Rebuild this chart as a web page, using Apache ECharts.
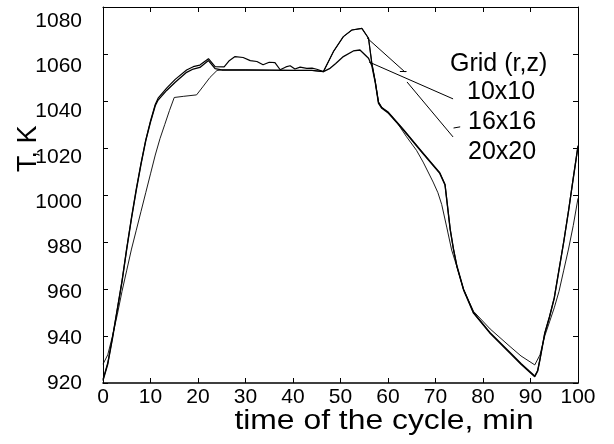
<!DOCTYPE html>
<html>
<head>
<meta charset="utf-8">
<script src="https://cdn.jsdelivr.net/npm/echarts@6/dist/echarts.min.js"></script>
<style>
  html, body { margin: 0; padding: 0; background: #fff; }
  #chart { width: 614px; height: 444px; }
</style>
</head>
<body>
<div id="chart"></div>
<script>
// grid 10x10
var time10 = [0, 1, 2, 3, 4, 5, 6, 7, 8, 9, 10, 11, 11.6, 13.4, 15.2, 17.6, 19, 20.4, 22.2, 23.6, 25, 30, 35, 40, 44, 46.4, 47.8, 49, 50.6, 52.7, 54.1, 55.9, 56.6, 57.3, 58, 58.7, 60.1, 63.2, 67, 70.9, 72, 73.1, 73.8, 74.5, 75.9, 78, 81.5, 85.7, 88, 90.9, 91.5, 92, 93, 94, 95, 96, 97, 98, 99, 100];
var temp10 = [921, 928, 939, 951, 963, 977, 990, 1002, 1013, 1023, 1031, 1038, 1040.4, 1044.5, 1048, 1052.2, 1053.6, 1054.3, 1057.2, 1053.8, 1053.2, 1053.2, 1053.1, 1053, 1053, 1052.5, 1053.9, 1056, 1058.9, 1061.3, 1061.7, 1058.2, 1055, 1048, 1039, 1036.9, 1034.8, 1027.7, 1018.5, 1009.2, 1004.3, 985.1, 976.6, 969.5, 959.6, 949.7, 941.1, 932.6, 928, 922.7, 925, 930, 941, 948, 956, 968, 980, 993, 1007, 1020.6];

// grid 16x16
var time16 = [0, 1, 2, 3, 4, 5, 6, 7, 8, 9, 10, 11, 11.6, 13.4, 15.2, 17.6, 19, 20.4, 22.2, 23.6, 25.5, 26.5, 27.8, 29.5, 31, 32.4, 33.7, 35, 36.2, 37.3, 38.5, 39.4, 40.4, 41.5, 42.9, 44, 45, 46.4, 48.5, 50.6, 52.4, 54.5, 55.9, 56.6, 57.3, 58, 58.7, 60.1, 63.2, 67, 70.9, 72, 73.1, 73.8, 74.5, 75.9, 78, 81.5, 85.7, 88, 90.9, 91.5, 92, 93, 94, 95, 96, 97, 98, 99, 100];
var temp16 = [921.5, 928.5, 939.5, 951.5, 963.5, 977.5, 990.5, 1002.5, 1013.5, 1023.5, 1031.5, 1038.5, 1041.2, 1045.5, 1049.2, 1053.2, 1054.6, 1055.3, 1058, 1054.6, 1054.5, 1057, 1058.9, 1058.5, 1057.2, 1056.8, 1055.4, 1056.5, 1056.3, 1053.3, 1054.5, 1055, 1053.6, 1054.4, 1053.9, 1054, 1053.5, 1052.5, 1061, 1067.4, 1070.2, 1070.9, 1066.7, 1056, 1048.5, 1039.5, 1037.2, 1035.2, 1028, 1018.8, 1009.5, 1004.6, 985.5, 977, 970, 960, 950, 941.4, 933, 928.3, 923, 925.3, 930.3, 941.3, 948.3, 956.3, 968.3, 980.3, 993.3, 1007.3, 1021];

// grid 20x20
var time20 = [0, 1, 2, 3, 4, 5, 6, 7, 8, 9, 10, 11, 12, 13, 14, 15, 17, 19.7, 21, 22.5, 24, 25, 30, 35, 40, 44, 46.4, 48.5, 50.6, 52.4, 54.5, 55.9, 56.6, 57.3, 58, 58.7, 60.1, 62, 63.9, 66, 67.4, 69.5, 70.5, 71.3, 72.4, 73.4, 74.5, 75.9, 78, 81.5, 85.7, 88, 90.9, 92, 93, 94, 95, 96, 97, 98, 99, 100];
var temp20 = [928, 932, 940, 949, 959, 968, 977, 985, 993, 1001, 1009, 1017, 1024, 1030, 1036, 1041.5, 1042, 1042.6, 1046, 1050, 1053, 1053.2, 1053.2, 1053.1, 1053, 1053, 1052.5, 1061, 1067.4, 1070.2, 1070.9, 1066.7, 1056, 1048.5, 1039.5, 1037.2, 1035, 1030.5, 1024.8, 1019, 1014, 1005.5, 1001, 996, 986, 976.6, 969.5, 959.8, 950.5, 943, 935.5, 931.5, 927.7, 932, 940, 946, 952, 959, 968, 977, 987, 998.6];

var xTicks = [0, 10, 20, 30, 40, 50, 60, 70, 80, 90, 100];
var yTicks = [920, 940, 960, 980, 1000, 1020, 1040, 1060, 1080];

// legend text + leader lines (ends given in data units)
var gridNames = ['Grid (r,z)', '10x10', '16x16', '20x20'];
var leader10 = [[56.0, 1056.6], [73.7, 1040.9]];
var leader16a = [[55.6, 1066.8], [63.6, 1052.3]];
var leader16b = [[64.0, 1048.1], [73.7, 1024.7]];
var stubA = [[62.5, 1052.5], [63.9, 1052.5]];
var stubB = [[73.8, 1028.5], [75.2, 1029]];

function pairs(t, v) {
    return t.map(function (x, i) { return [x, v[i]]; });
}
function seg(p) {
    return [{ coord: p[0] }, { coord: p[1] }];
}

var font = 'Liberation Sans, Arial, sans-serif';
var chart = echarts.init(document.getElementById('chart'), null, { renderer: 'canvas' });

var lineBase = {
    type: 'line',
    showSymbol: false,
    symbol: 'none',
    smooth: false,
    animation: false,
    xAxisIndex: 0,
    yAxisIndex: 0
};

var option = {
    backgroundColor: '#fff',
    animation: false,
    grid: [
        { left: 103, right: 36, top: 7, bottom: 61 },
        { left: 103, right: 36, top: 21, bottom: 61 }
    ],
    xAxis: [
        {
            gridIndex: 0, type: 'value', min: 0, max: 100, interval: 10,
            axisLine: { onZero: false, lineStyle: { color: '#000', width: 1.6 } },
            axisTick: { inside: true, length: 5, lineStyle: { color: '#000' } },
            axisLabel: { color: '#000', fontSize: 21, fontFamily: font, margin: 4 },
            splitLine: { show: false }
        },
        {
            gridIndex: 0, type: 'value', min: 0, max: 100, interval: 10, position: 'top',
            axisLine: { onZero: false, lineStyle: { color: '#000', width: 1.2 } },
            axisTick: { inside: true, length: 5, lineStyle: { color: '#000' } },
            axisLabel: { show: false },
            splitLine: { show: false }
        },
        { gridIndex: 1, type: 'value', min: 0, max: 100, show: false }
    ],
    yAxis: [
        {
            gridIndex: 0, type: 'value', min: 920, max: 1080, interval: 20,
            axisLine: { show: true, onZero: false, lineStyle: { color: '#000', width: 1 } },
            axisTick: { show: true, inside: true, length: 5, lineStyle: { color: '#000' } },
            axisLabel: { show: false },
            splitLine: { show: false }
        },
        {
            gridIndex: 0, type: 'value', min: 920, max: 1080, interval: 20, position: 'right',
            axisLine: { show: true, onZero: false, lineStyle: { color: '#000', width: 1 } },
            axisTick: { show: true, inside: true, length: 5, lineStyle: { color: '#000' } },
            axisLabel: { show: false },
            splitLine: { show: false }
        },
        {
            // tick labels sit on their own, slightly offset scale, like the scanned figure
            gridIndex: 1, type: 'value', min: 920, max: 1080, interval: 20,
            axisLine: { show: false },
            axisTick: { show: false },
            axisLabel: {
                color: '#000', fontSize: 21, fontFamily: font, margin: 21,
                formatter: function (v) { return yTicks.indexOf(v) >= 0 ? String(v) : ''; }
            },
            splitLine: { show: false }
        }
    ],
    graphic: [
        {
            type: 'text', x: 384, y: 408, scaleX: 1.18,
            style: { text: 'time of the cycle, min', font: '27px ' + font, fill: '#000', textAlign: 'center' }
        },
        {
            type: 'text', x: 15, y: 172, rotation: Math.PI / 2,
            style: { text: 'T, K', font: '27px ' + font, fill: '#000' }
        },
        { type: 'text', left: 450, top: 52, style: { text: gridNames[0], font: '25px ' + font, fill: '#000' } },
        { type: 'text', left: 467, top: 80, style: { text: gridNames[1], font: '25px ' + font, fill: '#000' } },
        { type: 'text', left: 468, top: 110, style: { text: gridNames[2], font: '25px ' + font, fill: '#000' } },
        { type: 'text', left: 468, top: 140, style: { text: gridNames[3], font: '25px ' + font, fill: '#000' } }
    ],
    series: [
        Object.assign({}, lineBase, {
            name: '10x10', data: pairs(time10, temp10),
            lineStyle: { color: '#000', width: 1.3 },
            markLine: {
                silent: true, symbol: 'none', animation: false,
                label: { show: false },
                lineStyle: { color: '#000', type: 'solid', width: 1 },
                data: [seg(leader10), seg(leader16a), seg(leader16b), seg(stubA), seg(stubB)]
            }
        }),
        Object.assign({}, lineBase, {
            name: '16x16', data: pairs(time16, temp16),
            lineStyle: { color: '#000', width: 1.2 }
        }),
        Object.assign({}, lineBase, {
            name: '20x20', data: pairs(time20, temp20),
            lineStyle: { color: '#000', width: 0.9 }
        })
    ]
};

chart.setOption(option);
</script>
</body>
</html>
